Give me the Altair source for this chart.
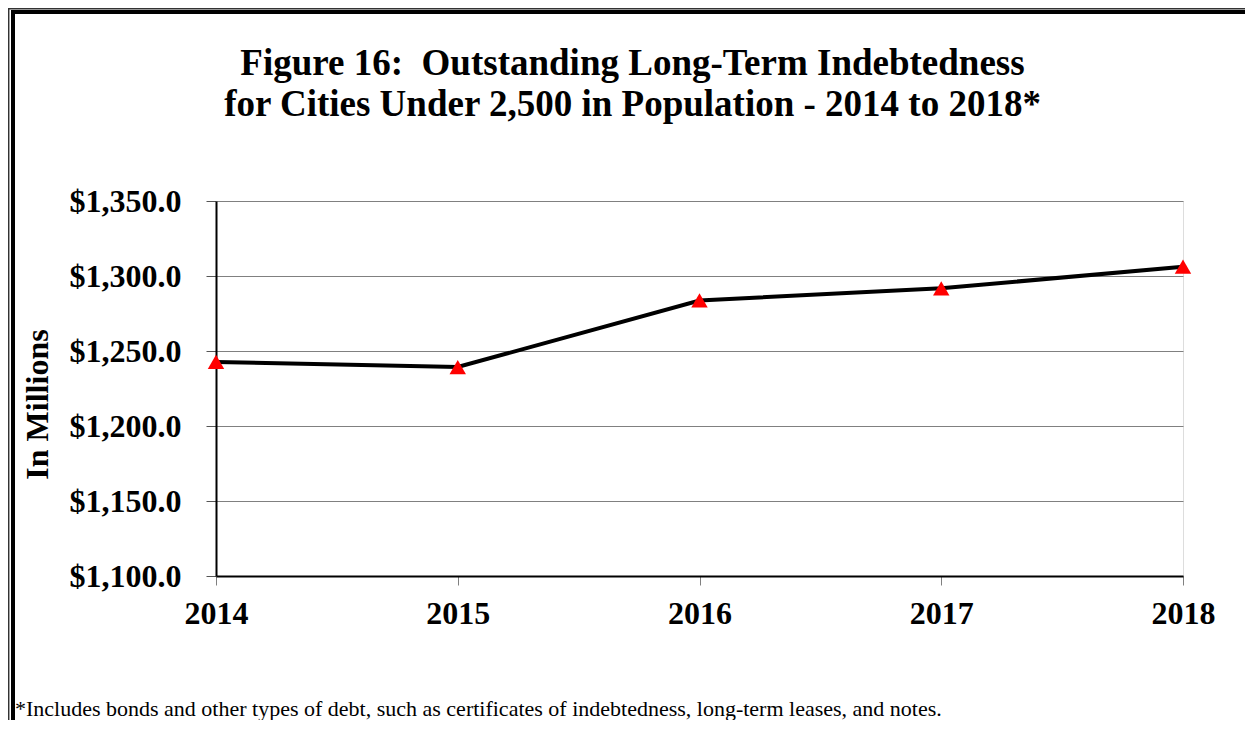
import altair as alt
import pandas as pd

# ---- data ----
years = ["2014", "2015", "2016", "2017", "2018"]
debt_millions = [1242.7, 1239.3, 1283.7, 1291.8, 1306.2]
y_tick_values = [1100, 1150, 1200, 1250, 1300, 1350]
title_lines = [
    "Figure 16:\u00a0 Outstanding Long-Term Indebtedness",
    "for Cities Under 2,500 in Population - 2014 to 2018*",
]
y_title = "In Millions"
footnote = ("*Includes bonds and other types of debt, such as certificates of "
            "indebtedness, long-term leases, and notes.")

df = pd.DataFrame({"year": years, "debt": debt_millions})
one = pd.DataFrame({"k": [0]})

FONT = "Liberation Serif"
W, H = 967, 375
PAD = {"left": 208, "top": 193, "right": 62, "bottom": 144}
BOTTOM = H + PAD["bottom"]
RIGHT = W + PAD["right"]

x_enc = alt.X(
    "year:O",
    scale=alt.Scale(type="point", padding=0),
    axis=alt.Axis(
        title=None, labelAngle=0, grid=False,
        labelFont=FONT, labelFontSize=32, labelFontWeight="bold", labelColor="black",
        labelPadding=13, tickSize=9, tickColor="#808080", tickWidth=1,
        domainColor="black", domainWidth=2,
    ),
)
y_enc = alt.Y(
    "debt:Q",
    scale=alt.Scale(domain=[1100, 1350], nice=False, zero=False),
    axis=alt.Axis(
        values=y_tick_values, format="$,.1f",
        title=y_title, titleFont=FONT, titleFontSize=32, titleFontWeight="bold",
        titleColor="black", titleAngle=-90, titleX=-178.5, titleY=203,
        titleAlign="center", titleBaseline="middle",
        labelFont=FONT, labelFontSize=32, labelFontWeight="bold", labelColor="black",
        labelPadding=25, tickSize=10, tickColor="#555555", tickWidth=1,
        domainColor="black", domainWidth=2,
        grid=True, gridColor="#808080", gridWidth=1,
    ),
)

line = alt.Chart(df).mark_line(color="black", strokeWidth=4).encode(x=x_enc, y=y_enc)
pts = alt.Chart(df).mark_point(
    shape="triangle-up", filled=True, color="#ff0000", size=270, opacity=1
).encode(x="year:O", y="debt:Q")

# decorative page frame (double line at left and top)
frame_left_thin = alt.Chart(one).mark_rule(color="#333333", strokeWidth=1.5).encode(
    x=alt.value(-207.3), y=alt.value(-193), y2=alt.value(BOTTOM))
frame_left_thick = alt.Chart(one).mark_rule(color="black", strokeWidth=4).encode(
    x=alt.value(-203), y=alt.value(-187), y2=alt.value(BOTTOM))
frame_top_thin = alt.Chart(one).mark_rule(color="#333333", strokeWidth=1.5).encode(
    x=alt.value(-208), x2=alt.value(RIGHT), y=alt.value(-192.3))
frame_top_thick = alt.Chart(one).mark_rule(color="black", strokeWidth=4).encode(
    x=alt.value(-205), x2=alt.value(RIGHT), y=alt.value(-189))

note = alt.Chart(one).mark_text(
    text=footnote, align="left", baseline="alphabetic",
    font=FONT, fontSize=22, color="black",
).encode(x=alt.value(-201), y=alt.value(515))

chart = alt.layer(
    frame_left_thin, frame_left_thick, frame_top_thin, frame_top_thick,
    line, pts, note,
).properties(
    width=W, height=H,
    autosize=alt.AutoSizeParams(type="none"),
    padding=PAD,
    title=alt.TitleParams(
        text=title_lines, font=FONT, fontSize=37, fontWeight="bold", color="black",
        lineHeight=41, anchor="middle", dx=-67, offset=-116.5,
    ),
).configure_view(
    stroke="#808080", strokeWidth=1.5
).configure(background="white")

chart.save("out.html", embed_options={"renderer": "svg", "actions": False})
